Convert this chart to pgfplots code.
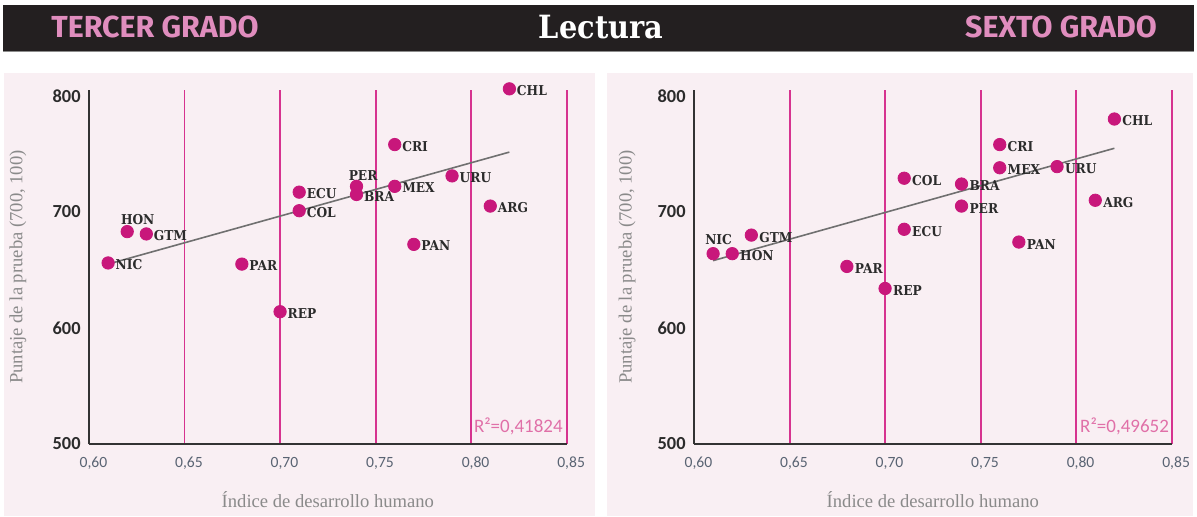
\documentclass[border=0pt]{standalone}
\usepackage{fontspec}
\usepackage{pgfplots}
\usepackage{pgfplotstable}
\pgfplotsset{compat=1.18}
\setmainfont{DejaVu Serif}
\newfontfamily\slabfont{DejaVu Serif Condensed}
\newfontfamily\carl{Carlito}
\newfontfamily\heavyfont{Fira Sans}
\newfontfamily\labelserif{Liberation Serif}

\definecolor{panel}{HTML}{F9EFF3}
\definecolor{bannerblack}{HTML}{231F20}
\definecolor{bannerpink}{HTML}{E08DBE}
\definecolor{dotcol}{HTML}{C8177B}
\definecolor{gridcol}{HTML}{D6338F}
\definecolor{rcol}{HTML}{E070A8}
\definecolor{labcol}{HTML}{2B2B2B}
\definecolor{xtickcol}{HTML}{5A6473}
\definecolor{ytickcol}{HTML}{2B2B2B}
\definecolor{axlab}{HTML}{8A8A8A}
\definecolor{axiscol}{HTML}{333333}
\definecolor{trendcol}{HTML}{707070}

% Tercer grado
\pgfplotstableread{
x y label
0.61 656 NIC
0.63 681 GTM
0.68 655 PAR
0.70 614 REP
0.71 717 ECU
0.71 701 COL
0.74 715 BRA
0.76 722 MEX
0.76 758 CRI
0.77 672 PAN
0.79 731 URU
0.81 705 ARG
0.82 806 CHL
}\tercerMain
\pgfplotstableread{
x y label
0.62 683 HON
}\tercerHON
\pgfplotstableread{
x y label
0.74 722 PER
}\tercerPER
\pgfplotstableread{
x y
0.61 655
0.82 751.5
}\tercerTrend

% Sexto grado
\pgfplotstableread{
x y label
0.62 664 HON
0.63 680 GTM
0.68 653 PAR
0.70 634 REP
0.71 729 COL
0.71 685 ECU
0.74 724 BRA
0.74 705 PER
0.76 758 CRI
0.76 738 MEX
0.77 674 PAN
0.79 739 URU
0.81 710 ARG
0.82 780 CHL
}\sextoMain
\pgfplotstableread{
x y label
0.61 664 NIC
}\sextoNIC
\pgfplotstableread{
x y
0.61 658
0.82 754.8
}\sextoTrend

\pgfplotsset{
  panelaxis/.style={
    scale only axis,
    width=238.85pt, height=177pt,
    xmin=0.6, xmax=0.85, ymin=500, ymax=805,
    axis lines=left,
    axis line style={-, draw=axiscol, line width=0.8pt},
    xtick={0.6,0.65,0.7,0.75,0.8,0.85},
    xticklabels={{0,60},{0,65},{0,70},{0,75},{0,80},{0,85}},
    ytick={500,600,700,800},
    yticklabels={500,600,700,800},
    major tick length=0pt,
    xmajorgrids,
    grid style={draw=gridcol, line width=0.95pt},
    xticklabel style={anchor=center, inner sep=0pt, yshift=-9.5pt, xshift=2.2pt,
      font=\carl\fontsize{7.8}{9}\selectfont, text=xtickcol},
    yticklabel style={anchor=east, inner sep=0pt, xshift=-4pt,
      font=\carl\bfseries\fontsize{9.2}{10}\selectfont, text=ytickcol},
    xlabel={Índice de desarrollo humano},
    ylabel={Puntaje de la prueba (700, 100)},
    xlabel style={at={(axis description cs:0.5,-0.158)}, anchor=center,
      font=\labelserif\fontsize{9.3}{11}\selectfont, text=axlab},
    ylabel style={anchor=center,
      font=\labelserif\fontsize{9.3}{11}\selectfont, text=axlab},
    clip=false,
  },
  dots/.style={only marks, mark=*, mark size=3.1pt, color=dotcol,
    mark options={draw=dotcol, fill=dotcol}},
  labs/.style={nodes near coords, point meta=explicit symbolic,
    every node near coord/.append style={inner sep=0pt, text=labcol,
      font=\slabfont\bfseries\fontsize{6.8}{8}\selectfont, #1}},
  trend/.style={no marks, draw=trendcol, line width=0.8pt},
}

\begin{document}
\begin{tikzpicture}
\begin{scope}[x=0.5pt, y=0.5pt]
\path[use as bounding box] (0,0) rectangle (1197,516);
\fill[white] (0,0) rectangle (1197,516);
% banner
\fill[bannerblack] (3,465) rectangle (1194,511);
\draw[black!45, line width=0.6pt] (3,464.6) -- (1194,464.6);
\node[anchor=base, inner sep=0pt, text=bannerpink, font=\heavyfont\bfseries\fontsize{15.2}{16}\selectfont] at (155,479) {TERCER GRADO};
\node[anchor=base, inner sep=0pt, text=white, font=\slabfont\bfseries\fontsize{16}{18}\selectfont] at (601,478) {Lectura};
\node[anchor=base, inner sep=0pt, text=bannerpink, font=\heavyfont\bfseries\fontsize{15.2}{16}\selectfont] at (1061,479) {SEXTO GRADO};
% panels
\fill[panel] (4,0) rectangle (595,443.3);
\fill[panel] (607,0) rectangle (1193,443.3);
\end{scope}

% Left: tercer grado
\begin{axis}[panelaxis, at={(44.5pt,36pt)}, anchor=south west,
  ylabel style={at={(axis description cs:-0.1486,0.5)}}]
\addplot[trend] table[x=x,y=y] {\tercerTrend};
\addplot[dots, labs={anchor=west, xshift=3.6pt, yshift=-0.8pt}] table[x=x,y=y,meta=label] {\tercerMain};
\addplot[dots, labs={anchor=south, xshift=5.25pt, yshift=3.5pt}] table[x=x,y=y,meta=label] {\tercerHON};
\addplot[dots, labs={anchor=south, xshift=3.3pt, yshift=2.85pt}] table[x=x,y=y,meta=label] {\tercerPER};
\node[anchor=east, inner sep=0pt, xshift=-1.8pt, text=rcol, font=\carl\fontsize{9.5}{11}\selectfont] at (axis cs:0.85,515) {R²=0,41824};
\end{axis}

% Right: sexto grado
\begin{axis}[panelaxis, at={(347pt,36pt)}, anchor=south west,
  ylabel style={at={(axis description cs:-0.140,0.5)}}]
\addplot[trend] table[x=x,y=y] {\sextoTrend};
\addplot[dots, labs={anchor=west, xshift=3.8pt, yshift=-1pt}] table[x=x,y=y,meta=label] {\sextoMain};
\addplot[dots, labs={anchor=south, xshift=2.75pt, yshift=4.5pt}] table[x=x,y=y,meta=label] {\sextoNIC};
\node[anchor=east, inner sep=0pt, xshift=-1.2pt, text=rcol, font=\carl\fontsize{9.5}{11}\selectfont] at (axis cs:0.85,515) {R²=0,49652};
\end{axis}
\end{tikzpicture}
\end{document}
